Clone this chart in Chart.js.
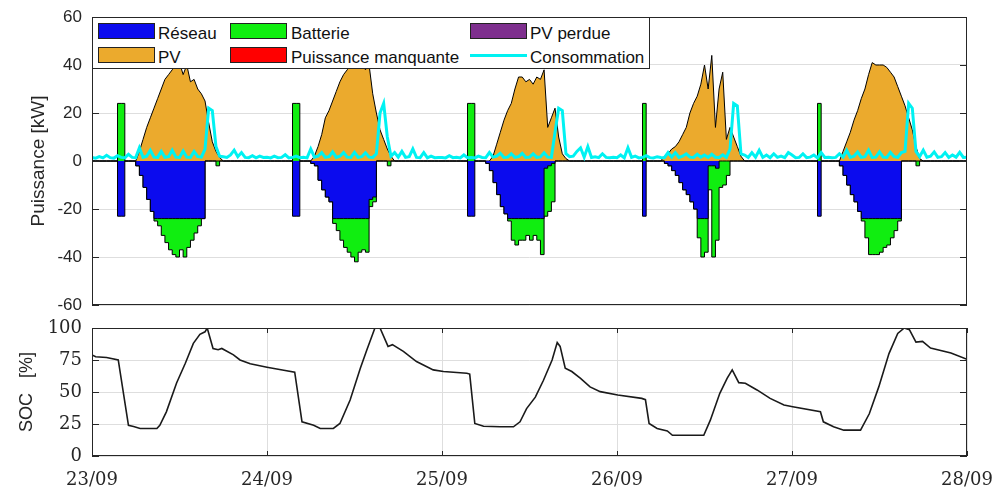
<!DOCTYPE html>
<html>
<head>
<meta charset="utf-8">
<title>Puissance et SOC</title>
<script src="https://cdn.jsdelivr.net/npm/chart.js@4.4.1/dist/chart.umd.min.js"></script>
<style>
  body { margin: 0; background: #fff; }
  #wrap { position: relative; width: 995px; height: 488px; overflow: hidden; }
  #powerChart { position: absolute; left: 0; top: 0; }
  #socChart { position: absolute; left: 0; top: 316px; }
  #legend {
    position: absolute; left: 92px; top: 17px; width: 556px; height: 50px;
    border: 1px solid #262626; background: #fff;
    font-family: "Liberation Sans", Arial, sans-serif; font-size: 17px; color: #111;
  }
  #legend .sw { position: absolute; width: 55px; height: 14px; border: 1px solid #222; }
  #legend .ln { position: absolute; width: 57px; height: 3px; }
  #legend .lb { position: absolute; line-height: 17px; white-space: nowrap; }
</style>
</head>
<body>
<div id="wrap">
  <canvas id="powerChart" width="995" height="316"></canvas>
  <canvas id="socChart" width="995" height="172"></canvas>
  <div id="legend"></div>
</div>
<script>
// x axis: hours since 23/09 00:00, half-hour steps (5 days)
const hours = []
for (let i = 0; i <= 240; i++) hours.push(i / 2)

const dayLabels = ['23/09', '24/09', '25/09', '26/09', '27/09', '28/09']

// Power flows [kW], one row per day (48 half-hours), last value = 28/09 00:00
const reseau = [
  0,0,0,0,0,0,0,0, -23,-23,0,0,0,-2,-6,-11, -16,-21,-24,-24,-24,-24,-24,-24, -24,-24,-24,-24,-24,-24,-24,-24, 0,0,0,0,0,0,0,0, 0,0,0,0,0,0,0,0,
  0,0,0,0,0,0,0,0, -23,-23,0,0,0,-1,-2,-8, -12,-15,-17,-24,-24,-24,-24,-24, -24,-24,-24,-24,-24,-16,-15,0, 0,0,0,0,0,0,0,0, 0,0,0,0,0,0,0,0,
  0,0,0,0,0,0,0,0, -23,-23,0,0,0,-1,-4,-9, -14,-19,-22,-24,-24,-24,-24,-24, -24,-24,-24,-24,-24,-3,-2,-1, 0,0,0,0,0,0,0,0, 0,0,0,0,0,0,0,0,
  0,0,0,0,0,0,0,0, -23,0,0,0,0,0,-1,-2, -4,-6,-9,-12,-14,-17,-20,-24, -24,-24,-2,-2,-3,0,0,0, 0,0,0,0,0,0,0,0, 0,0,0,0,0,0,0,0,
  0,0,0,0,0,0,0,0, -23,0,0,0,0,0,-2,-6, -10,-14,-17,-21,-24,-24,-24,-24, -24,-24,-24,-24,-24,-24,-24,0, 0,0,0,0,0,0,0,0, 0,0,0,0,0,0,0,0,
  0
]

const batterie = [
  0,0,0,0,0,0,0,0, 24,24,0,0,0,0,0,0, 0,0,-1,-3,-7,-10,-13,-15, -16,-13,-16,-12,-9,-6,-3,0, 0,0,0,-2,0,0,0,0, 0,0,0,0,0,0,0,0,
  0,0,0,0,0,0,0,0, 24,24,0,0,0,0,0,0, 0,0,0,-2,-5,-9,-12,-14, -16,-18,-14,-13,-14,-3,-2,0, 0,0,-2,0,0,0,0,0, 0,0,0,0,0,0,0,0,
  0,0,0,0,0,0,0,0, 24,24,0,0,0,0,0,0, 0,0,0,-1,-9,-11,-9,-9, -7,-9,-7,-9,-15,-20,-19,-16, 0,0,0,0,0,0,0,0, 0,0,0,0,0,0,0,0,
  0,0,0,0,0,0,0,0, 24,0,0,0,0,0,0,0, 0,0,0,0,0,0,0,-8, -16,-14,-10,-38,-30,-11,-10,-6, 0,0,0,0,0,0,0,0, 0,0,0,0,0,0,0,0,
  0,0,0,0,0,0,0,0, 24,0,0,0,0,0,0,0, 0,0,0,0,-1,-8,-15,-15, -15,-14,-12,-11,-8,-5,-1,0, 0,0,0,-2,0,0,0,0, 0,0,0,0,0,0,0,0,
  0
]

const pv = [
  0,0,0,0,0,0,0,0, 0,0,0,0,0,4,9,14, 18,22,26,30,34,36,38,40, 41,36,40,33,34,30,28,25, 16,8,4,1.5,0,0,0,0, 0,0,0,0,0,0,0,0,
  0,0,0,0,0,0,0,0, 0,0,0,0,0,2,6,11, 18,21,25,29,33,36,38,40, 42,39,41,38,40,28,20,13, 9,5,2,0,0,0,0,0, 0,0,0,0,0,0,0,0,
  0,0,0,0,0,0,0,0, 0,0,0,0,0,0,2,7, 12,17,21,24,30,35,35,33, 34,32,35,34,38,14,18,22, 10,3,1,0,0,0,0,0, 0,0,0,0,0,0,0,0,
  0,0,0,0,0,0,0,0, 0,0,0,0,0,2,3,5, 6,8,11,14,20,24,27,32, 40,30,44,14,30,37,9,14, 10,6,2,0,0,0,0,0, 0,0,0,0,0,0,0,0,
  0,0,0,0,0,0,0,0, 0,0,0,0,0,0,4,8, 12,17,21,26,30,36,41,40, 40,40,39,37,35,31,27,23, 18,13,6,1,0,0,0,0, 0,0,0,0,0,0,0,0,
  0
]

const consommation = [
  1.5,1.2,1.8,1.3,2.4,1.4,1.2,2.2, 1.5,1.3,2.8,1.5,1.4,5.5,1.5,2.0, 4.5,1.6,1.5,4.0,1.5,1.8,4.5,1.6, 1.5,4.2,1.6,1.5,4.0,1.8,1.6,5, 22,21,6,2,1.8,1.5,2.5,4.5, 1.8,3.5,1.5,1.4,2.2,1.3,2.0,1.5,
  1.6,1.3,2.0,1.4,1.5,2.6,1.3,1.5, 2.0,1.4,1.6,1.3,5.0,1.6,2.0,3.5, 1.5,1.8,3.8,1.5,2.0,3.5,1.6,1.5, 3.6,1.5,1.8,3.4,1.6,1.5,3,20, 24,10,2,3.5,1.6,4,1.5,1.8, 5,1.5,1.4,3.5,1.3,2.0,1.4,1.5,
  1.5,1.3,2.2,1.4,1.6,1.3,2.5,1.4, 1.5,1.3,2.0,1.5,1.4,3.5,1.6,2.0, 3.2,1.5,1.6,3.0,1.5,1.8,3.2,1.5, 1.6,3.0,1.5,1.7,3.4,1.6,1.5,12, 22,21,3,1.8,2,4,5.5,1.6, 6,1.5,1.8,1.4,3,1.5,1.4,1.6,
  1.4,2.5,1.3,5.5,1.5,2.0,1.3,1.5, 2.2,1.4,1.3,1.8,1.5,1.4,3.5,1.6, 3.5,1.5,2.0,3.0,1.6,1.5,2.8,1.6, 2.5,1.5,2.8,1.6,1.5,2.6,1.5,5, 24,23,3,2.5,1.5,3.5,1.6,4.5, 1.5,2.5,1.4,3.0,1.5,2.0,1.4,3.5,
  2.5,1.4,1.5,3.0,1.4,1.6,2.5,1.3, 3.5,1.5,1.6,1.4,1.5,3.0,1.6,4.5, 1.5,2.0,3.8,1.5,1.8,4.5,1.5,1.6, 3.8,1.6,1.5,3.6,1.8,1.5,3.5,4, 24,22,4,1.8,4.5,1.6,2,3.8, 1.5,1.8,3.5,1.5,2.5,1.6,3.6,1.5,
  1.6
]

// Battery state of charge [%]
const socHours = [0,0.5,2,3.6,5.0,5.7,6.6,8.9,9.3,10.2,11.6,12.8,13.9,14.8,15.5,15.8,16.6,17.3,17.8,19.4,20.3,21.7,24,26.3,27.8,
  28.8,30.4,31.3,33.1,34,35.4,36.8,37.7,38.8,39.5,40.6,41.2,42.7,44.5,46.8,48.2,51.4,51.8,52.5,53.7,56,57.8,58.7,59.6,60.8,61.9,
  63.1,63.8,64.2,64.9,65.8,67,68.3,69.7,72.1,75.4,75.9,76.4,77.5,78.9,79.6,83.9,84.8,86.1,87.1,87.8,88.7,89.6,91.2,93,94.9,96.1,
  99.9,100.3,101.7,103.1,105.4,106.6,107.9,109.3,110.5,111.4,112.1,113,113.9,115,117.8,120]
const socValues = [79,77.5,77,75,24,23,21.5,21.5,24,34.5,57,72.5,88,95,97,100,84,83,84,79,75,72,69.4,67,65.5,
  26.7,24,21.5,21.5,25.4,43.7,68.6,83,100,100,85.6,87,81.7,73.8,67.3,66,64.7,64,25.4,23.3,22.8,22.8,26.7,37,46,59,
  75,88.7,85.6,68.6,66,60.7,54,50.3,47.6,45,44,25.4,21.5,19.6,16.2,16.2,28,49,60.7,67.3,57.3,56.8,51.6,45,39.8,38.5,
  34.6,26.7,22.8,20.2,20.2,33,54,80,95.7,100,98.7,89,89.5,84.3,80.4,75.5]

const legendLabels = ['Réseau', 'Batterie', 'PV perdue', 'PV', 'Puissance manquante', 'Consommation']
const legendColors = ['#0b0bee', '#10ee10', '#7e2f8e', '#ebaa2d', '#ff0000', '#00f2f2']

const axisColor = '#262626'
const gridColor = '#dedede'

const xy = arr => arr.map((v, i) => ({ x: hours[i], y: v }))

// Draws the MATLAB-like box and inward tick marks
const axesBox = {
  id: 'axesBox',
  afterDatasetsDraw(chart, args, opts) {
    const { ctx, chartArea: a, scales } = chart
    ctx.save()
    ctx.strokeStyle = axisColor
    ctx.lineWidth = 1
    ctx.beginPath()
    scales.y.ticks.forEach(t => {
      const y = Math.round(scales.y.getPixelForValue(t.value)) + 0.5
      ctx.moveTo(a.left, y); ctx.lineTo(a.left + 7, y)
      ctx.moveTo(a.right, y); ctx.lineTo(a.right - 7, y)
    })
    if (opts.xTicks) {
      scales.x.ticks.forEach(t => {
        const x = Math.round(scales.x.getPixelForValue(t.value)) + 0.5
        ctx.moveTo(x, a.top); ctx.lineTo(x, a.top + 5)
        ctx.moveTo(x, a.bottom); ctx.lineTo(x, a.bottom - 5)
      })
    }
    ctx.stroke()
    ctx.strokeRect(Math.round(a.left) + 0.5, Math.round(a.top) + 0.5,
      Math.round(a.right - a.left) - 1, Math.round(a.bottom - a.top) - 1)
    ctx.restore()
  }
}

// tick gap made with an invisible tick mark so that it does not add layout padding
const gapGrid = len => ({ color: gridColor, drawTicks: true, tickLength: len, tickColor: 'rgba(0,0,0,0)' })

new Chart(document.getElementById('powerChart'), {
  type: 'line',
  data: {
    datasets: [
      {
        label: legendLabels[5],
        data: xy(consommation),
        stack: 'cons',
        borderColor: legendColors[5],
        borderWidth: 3,
        fill: false,
        order: 0
      },
      {
        label: legendLabels[0],
        data: xy(reseau),
        stack: 'flux',
        stepped: 'after',
        backgroundColor: legendColors[0],
        borderColor: '#000',
        borderWidth: 1,
        fill: 'origin',
        order: 1
      },
      {
        label: legendLabels[1],
        data: xy(batterie),
        stack: 'flux',
        stepped: 'after',
        backgroundColor: legendColors[1],
        borderColor: '#000',
        borderWidth: 1,
        fill: 'origin',
        order: 2
      },
      {
        label: legendLabels[3],
        data: xy(pv),
        stack: 'pv',
        backgroundColor: legendColors[3],
        borderColor: '#000',
        borderWidth: 1,
        fill: 'origin',
        order: 3
      }
    ]
  },
  options: {
    responsive: false,
    animation: false,
    devicePixelRatio: 1,
    layout: { padding: { left: 27, right: 28, top: 17, bottom: 11 } },
    elements: { point: { radius: 0 }, line: { tension: 0 } },
    plugins: { legend: { display: false }, tooltip: { enabled: false }, axesBox: {} },
    scales: {
      x: { type: 'linear', min: 0, max: 120, display: false },
      y: {
        stacked: true,
        min: -60,
        max: 60,
        ticks: { stepSize: 20, color: axisColor, padding: 0, font: { family: 'Liberation Sans', size: 17 } },
        grid: gapGrid(10),
        border: { display: false },
        title: {
          display: true,
          text: 'Puissance [kW]',
          color: axisColor,
          padding: 0,
          font: { family: 'Liberation Sans', size: 19 }
        },
        afterFit(scale) { scale.width = 65 }
      }
    }
  },
  plugins: [axesBox]
})

new Chart(document.getElementById('socChart'), {
  type: 'line',
  data: {
    datasets: [{
      label: 'SOC',
      data: socHours.map((h, i) => ({ x: h, y: socValues[i] })),
      borderColor: '#1a1a1a',
      borderWidth: 1.6,
      fill: false
    }]
  },
  options: {
    responsive: false,
    animation: false,
    devicePixelRatio: 1,
    layout: { padding: { left: 16, right: 28, top: 12, bottom: 0 } },
    elements: { point: { radius: 0 }, line: { tension: 0 } },
    plugins: { legend: { display: false }, tooltip: { enabled: false }, axesBox: { xTicks: true } },
    scales: {
      x: {
        type: 'linear',
        min: 0,
        max: 120,
        ticks: {
          stepSize: 24,
          maxRotation: 0,
          autoSkip: false,
          color: axisColor,
          padding: 0,
          font: { family: 'DejaVu Serif', size: 18 },
          callback: v => dayLabels[v / 24]
        },
        grid: gapGrid(14),
        border: { display: false },
        afterFit(scale) { scale.height = 32 }
      },
      y: {
        min: 0,
        max: 100,
        ticks: { stepSize: 25, color: axisColor, padding: 0, font: { family: 'DejaVu Serif', size: 18 } },
        grid: gapGrid(10),
        border: { display: false },
        title: {
          display: true,
          text: 'SOC   [%]',
          color: axisColor,
          padding: 0,
          font: { family: 'Liberation Sans', size: 18 }
        },
        afterFit(scale) { scale.width = 76 }
      }
    }
  },
  plugins: [axesBox]
})

// Legend box inside the power plot (3 columns x 2 rows)
const legendEl = document.getElementById('legend')
const colLeft = [5, 137, 377]
const labelLeft = [65, 198, 437]
const rowTop = [5, 29]
legendLabels.forEach((name, i) => {
  const col = i % 3, row = Math.floor(i / 3)
  const mark = document.createElement('div')
  if (name === 'Consommation') {
    mark.className = 'ln'
    mark.style.top = (rowTop[row] + 7) + 'px'
  } else {
    mark.className = 'sw'
    mark.style.top = rowTop[row] + 'px'
  }
  mark.style.left = colLeft[col] + 'px'
  mark.style.background = legendColors[i]
  legendEl.appendChild(mark)
  const lb = document.createElement('div')
  lb.className = 'lb'
  lb.textContent = name
  lb.style.left = labelLeft[col] + 'px'
  lb.style.top = (rowTop[row] + 1.5) + 'px'
  legendEl.appendChild(lb)
})
</script>
</body>
</html>
